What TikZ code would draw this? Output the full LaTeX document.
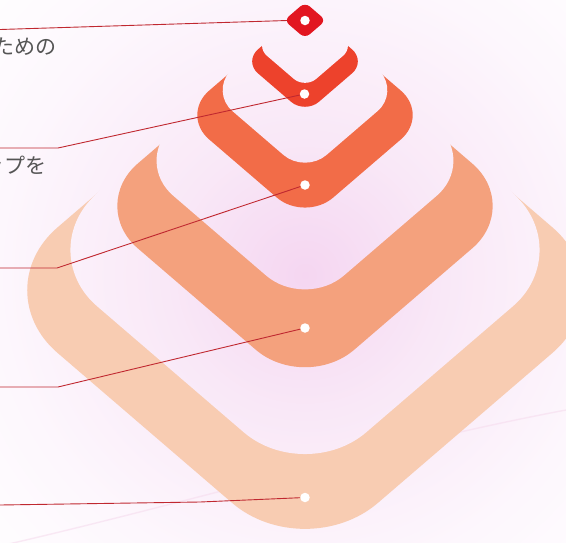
\documentclass[tikz,border=0pt]{standalone}
\usepackage{fontspec}
\newfontfamily\jp{Noto Sans CJK JP}
\definecolor{c1}{RGB}{226,22,32}
\definecolor{c2}{RGB}{237,66,44}
\definecolor{c3}{RGB}{242,108,72}
\definecolor{c4}{RGB}{244,161,125}
\definecolor{c5}{RGB}{248,204,178}
\definecolor{lead}{RGB}{192,40,48}
\definecolor{txt}{RGB}{85,85,85}
\definecolor{g0}{RGB}{245,214,241}
\definecolor{g1}{RGB}{249,232,247}
\definecolor{g2}{RGB}{253,247,253}
\definecolor{g3}{RGB}{255,255,255}
\definecolor{streakc}{RGB}{246,220,238}
\pgfdeclareradialshading{glow}{\pgfpoint{0bp}{0bp}}{color(0bp)=(g0); color(10bp)=(g1); color(22bp)=(g2); color(32bp)=(g3); color(50bp)=(g3)}
\newcommand\rdia[4]{%
  \pgfmathsetmacro\sS{#1/275.6}%
  \pgfmathsetmacro\aA{320*\sS}%
  \pgfmathsetmacro\bB{275*\sS}%
  \pgfmathsetmacro\dD{96*\sS}%
  \pgfmathsetmacro\cY{#2-239.5*\sS}%
  \pgfmathsetmacro\tT{\bB*#3}%
  \path[#4, rounded corners=\dD pt] (305-\aA/2,\cY+\bB/2) -- (305,\cY+\bB) -- (305+\aA,\cY) -- (305,\cY-\tT) -- (305-\aA,\cY) -- cycle;%
}
\newcommand\wdia[3]{%
  \begin{scope}
    \rdia{#1}{#2}{#3}{clip}
    \shade[shading=glow] (-45,-75) rectangle (655,625);
  \end{scope}%
}
\tikzset{
  leadline/.style={draw=lead, line width=0.9pt},
  dot/.style={circle, fill=white, inner sep=0pt, minimum size=9.5pt},
  label/.style={text=txt, inner sep=0pt, anchor=east, font=\jp\fontsize{21}{25}\selectfont},
  streak/.style={draw=streakc, line width=1.4pt, opacity=0.6}
}
\begin{document}
\begin{tikzpicture}[x=1pt,y=-1pt]
\useasboundingbox (0,0) rectangle (566,542);
\clip (0,0) rectangle (566,542);
\shade[shading=glow] (-45,-75) rectangle (655,625);
\draw[streak] (0,546) .. controls (180,505) and (380,445) .. (566,410);
% level 5
\rdia{276}{530}{1}{fill=c5}
\wdia{232}{455}{1.14}
% level 4
\rdia{186.5}{368}{1}{fill=c4}
\wdia{147}{290}{1.1}
% level 3
\rdia{107}{208}{1}{fill=c3}
\wdia{81}{163}{1.3}
% level 2
\rdia{52.5}{107}{1}{fill=c2}
\wdia{42.5}{83}{1.1}
% level 1
\rdia{18}{36}{1}{fill=c1}
% dots
\node[dot] (d1) at (305,20.5) {};
\node[dot] (d2) at (304.5,94) {};
\node[dot] (d3) at (305,185) {};
\node[dot] (d4) at (305,328) {};
\node[dot] (d5) at (305,497.5) {};
% connectors
\coordinate (s1) at (0,29.5);
\coordinate (t1) at (287,20.5);
\coordinate (s2) at (0,148);
\coordinate (k2) at (58,148);
\coordinate (s3) at (0,268);
\coordinate (k3) at (57,268);
\coordinate (s4) at (0,387);
\coordinate (k4) at (58,387);
\coordinate (s5) at (0,505);
\coordinate (k5) at (200,502);
\draw[leadline] (s1) -- (t1);
\draw[leadline] (s2) -- (k2) -- (d2);
\draw[leadline] (s3) -- (k3) -- (d3);
\draw[leadline] (s4) -- (k4) -- (d4);
\draw[leadline] (s5) -- (k5) -- (d5);
% texts
\node[label] (tA) at (57,47) {ための};
\node[label] (tB) at (3.5,80) {り};
\node[label] (tC) at (47,166) {ップを};
\end{tikzpicture}
\end{document}
